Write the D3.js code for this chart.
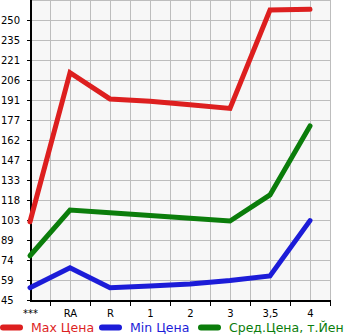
<!DOCTYPE html>
<html><head><meta charset="utf-8">
<script src="https://cdn.jsdelivr.net/npm/d3@7"></script>
<style>body{margin:0;background:#fff}svg{display:block}</style>
</head><body>
<script>
const categories = ["***","RA","R","1","2","3","3,5","4"];
const maxPrice = [102.3,211.4,192.2,190.5,188.0,185.3,257.3,257.8];
const minPrice = [54.0,68.6,54.0,55.2,56.7,59.3,62.6,103.1];
const avgPrice = [77.4,110.9,108.9,106.9,104.8,102.8,121.9,172.4];
const yTickLabels = ["45","59","74","89","103","118","133","147","162","177","191","206","221","235","250"];
const legendLabels = ["Max Цена","Min Цена","Сред.Цена, т.Йен"];
const colors = ["#dd1f1f","#1c1cd8","#0b7d0b"];

(function(){
const W=345,H=335;
const pLeft=31,pRight=331,pTop=0,pBottom=301;
const svg=d3.select("body").append("svg").attr("width",W).attr("height",H);
const x=d3.scaleLinear().domain([0,7.5]).range([30,330]);
const y=d3.scaleLinear().domain([45,250]).range([300,20]);
const yStep=(250-45)/(yTickLabels.length-1);
const yVals=yTickLabels.map((d,i)=>45+i*yStep);

svg.append("rect").attr("x",pLeft).attr("y",pTop).attr("width",pRight-pLeft).attr("height",pBottom-pTop).attr("fill","#f7f7f7");
const g=svg.append("g");
const hg=d3.range(-1,yTickLabels.length+1).map(i=>45+i*yStep).filter(v=>y(v)>=0&&y(v)<=300);
g.selectAll("line.h").data(hg).enter().append("line")
 .attr("x1",pLeft).attr("x2",pRight).attr("y1",d=>Math.round(y(d))+0.5).attr("y2",d=>Math.round(y(d))+0.5)
 .attr("stroke","#bdbdbd").attr("stroke-width",1);
const vg=d3.range(1,16).map(i=>i*0.5);
g.selectAll("line.v").data(vg).enter().append("line")
 .attr("x1",d=>Math.round(x(d))+0.5).attr("x2",d=>Math.round(x(d))+0.5).attr("y1",pTop).attr("y2",pBottom)
 .attr("stroke","#bdbdbd").attr("stroke-width",1);

const yAxis=d3.axisLeft(y).tickValues(yVals).tickFormat((d,i)=>yTickLabels[i]).tickSize(4).tickSizeOuter(0);
const ya=svg.append("g").attr("transform",`translate(${pLeft},0)`).call(yAxis);
ya.select(".domain").remove();
ya.selectAll("text").attr("font-family","DejaVu Sans").attr("font-size",10)
  .attr("fill","#000").attr("x",1-pLeft).attr("text-anchor","start");
ya.selectAll("line").attr("stroke","#000");

const xAxis=d3.axisBottom(x).tickValues(d3.range(0,8)).tickFormat((d,i)=>categories[i]).tickSize(0);
const xa=svg.append("g").attr("transform",`translate(0,${pBottom})`).call(xAxis);
xa.select(".domain").remove();
xa.selectAll("text").attr("font-family","DejaVu Sans").attr("font-size",10).attr("fill","#000").attr("dy","1.25em");
svg.append("g").selectAll("line").data(d3.range(0,8).map(i=>i+0.5)).enter().append("line")
 .attr("x1",d=>Math.round(x(d))+0.5).attr("x2",d=>Math.round(x(d))+0.5).attr("y1",pBottom).attr("y2",pBottom+5).attr("stroke","#000");

svg.append("line").attr("x1",pLeft).attr("x2",pLeft).attr("y1",0).attr("y2",pBottom+1).attr("stroke","#000").attr("stroke-width",2);
svg.append("line").attr("x1",pLeft-1).attr("x2",pRight).attr("y1",pBottom).attr("y2",pBottom).attr("stroke","#000").attr("stroke-width",2);

const line=d3.line().x((d,i)=>x(i)).y(d=>y(d));
[maxPrice,minPrice,avgPrice].forEach((s,k)=>{
  svg.append("path").datum(s).attr("d",line).attr("fill","none").attr("stroke",colors[k])
   .attr("stroke-width",5).attr("stroke-linejoin","miter").attr("stroke-linecap","round");
});

const lx=[0,99,198];
const lg=svg.append("g");
legendLabels.forEach((t,k)=>{
  lg.append("line").attr("x1",lx[k]+3).attr("x2",lx[k]+20).attr("y1",327.5).attr("y2",327.5)
   .attr("stroke",colors[k]).attr("stroke-width",6).attr("stroke-linecap","round");
  lg.append("text").attr("x",lx[k]+31).attr("y",332).attr("font-family","DejaVu Sans").attr("font-size",12.5)
   .attr("fill",colors[k]).text(t);
});
})();
</script>
</body></html>
